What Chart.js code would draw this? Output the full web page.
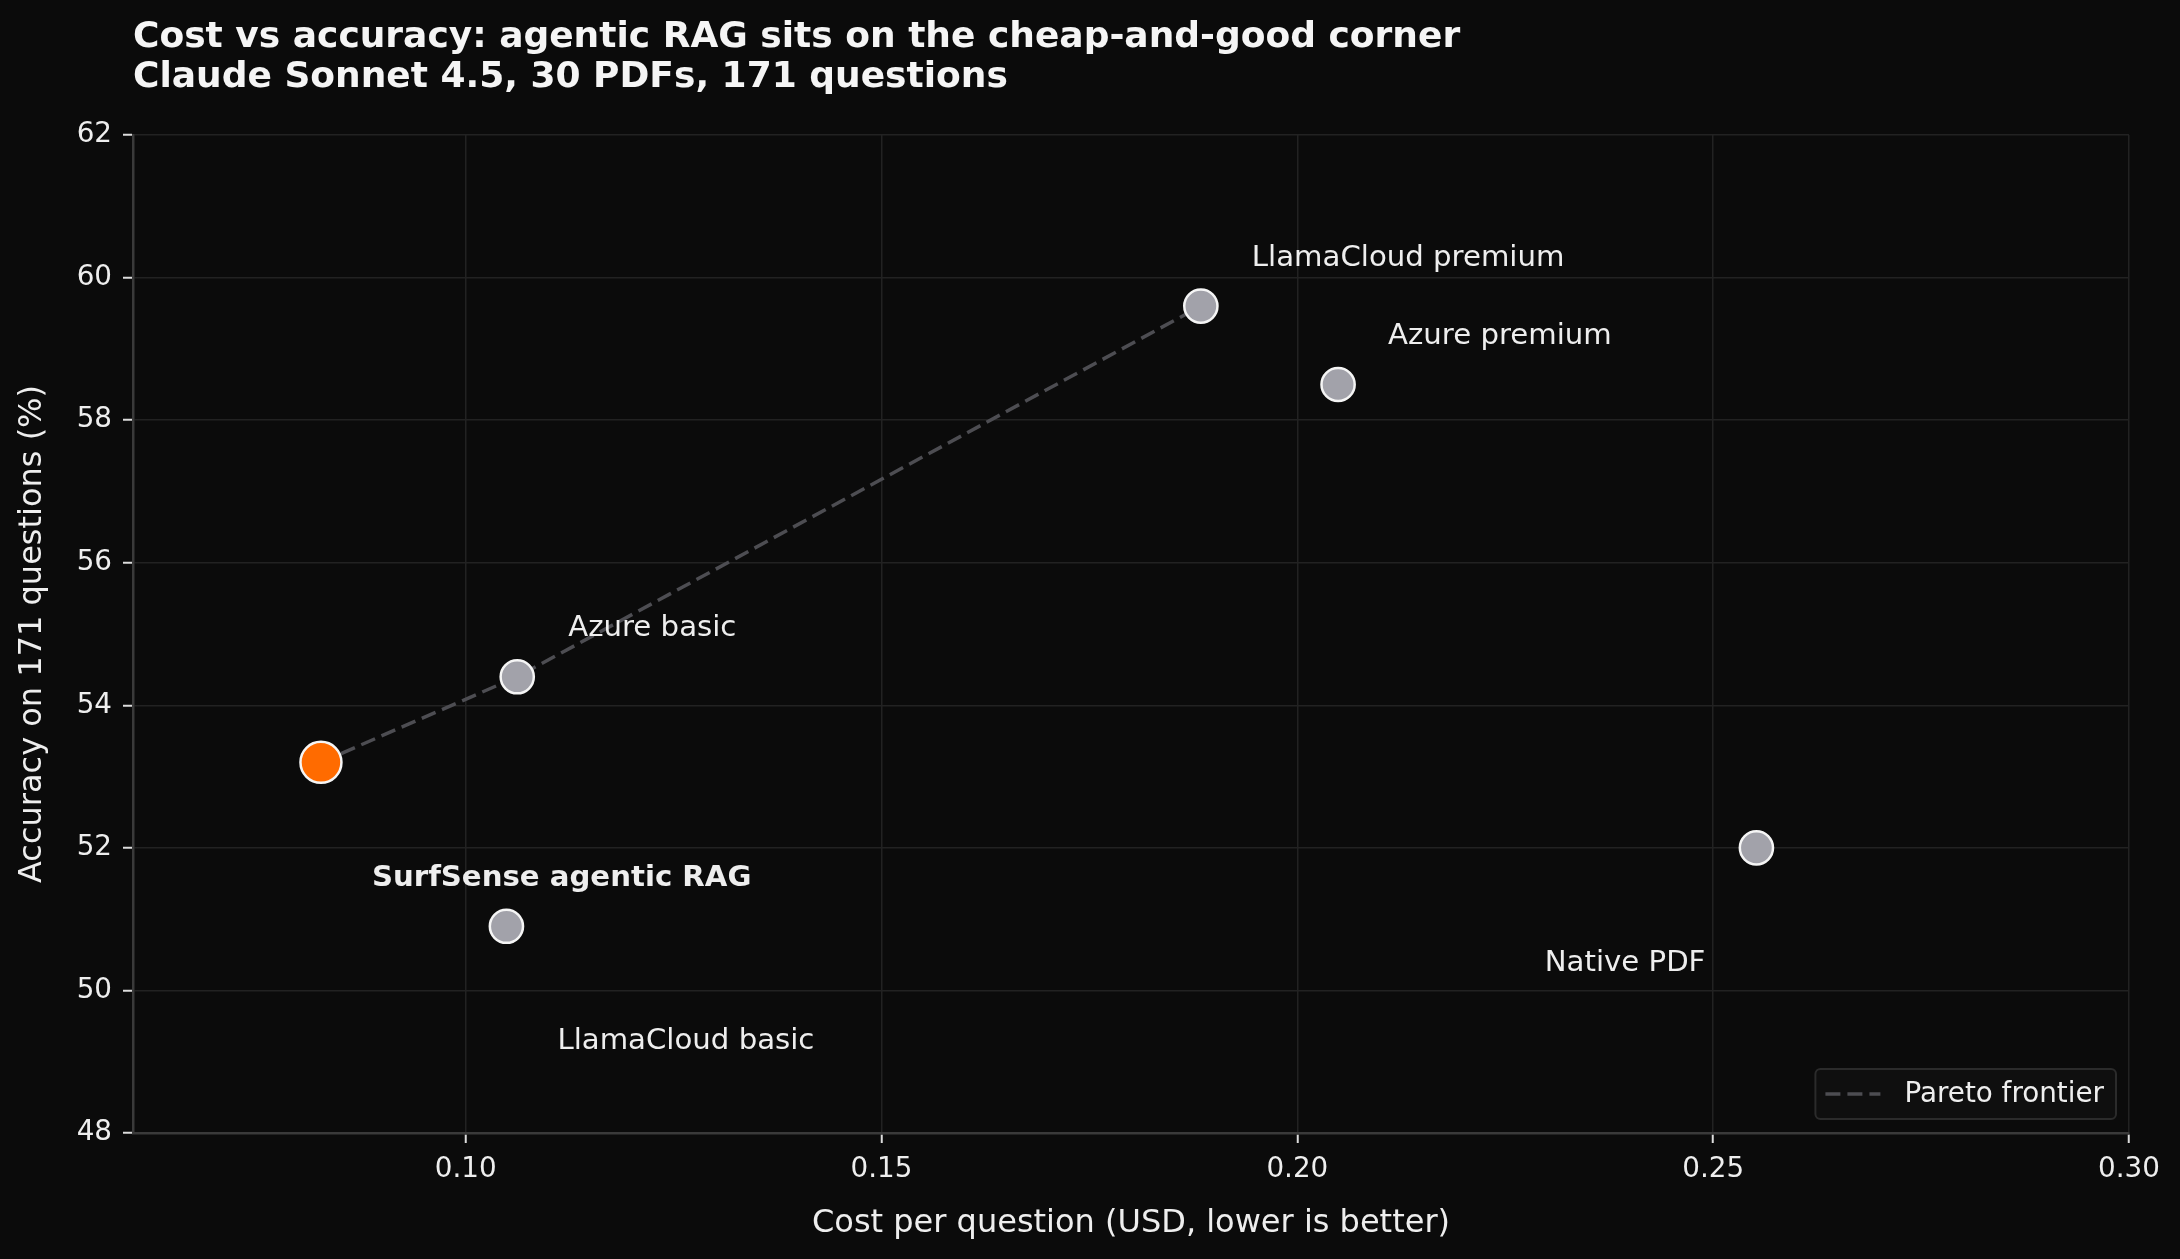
<!DOCTYPE html>
<html lang="en">
<head>
<meta charset="UTF-8">
<title>Cost vs accuracy</title>
<style>
  html, body { margin: 0; padding: 0; background: #0b0b0b; }
  canvas { display: block; }
</style>
</head>
<body>
<canvas id="cost_chart" width="2180" height="1259"></canvas>

<script src="https://cdn.jsdelivr.net/npm/chart.js"></script>
<script>
  // data
  const methods = ['SurfSense agentic RAG', 'Azure basic', 'LlamaCloud basic', 'LlamaCloud premium', 'Azure premium', 'Native PDF'];
  const costs = [0.0826, 0.1062, 0.1049, 0.1884, 0.2049, 0.2552];
  const accuracy = [53.2, 54.4, 50.9, 59.6, 58.5, 52.0];
  const paretoIdx = [0, 1, 3];
  const xTicks = [0.10, 0.15, 0.20, 0.25, 0.30];
  const yTicks = [48, 50, 52, 54, 56, 58, 60, 62];
  const titleLines = ['Cost vs accuracy: agentic RAG sits on the cheap-and-good corner', 'Claude Sonnet 4.5, 30 PDFs, 171 questions'];

  // label placement (pixels from the point) and styling
  const labelOffsets = [[51, 116, 'left', true], [51, -48, 'left', false], [51, 115, 'left', false],
                        [51, -48, 'left', false], [50, -48, 'left', false], [-51, 116, 'right', false]];

  const FONT = 'DejaVu Sans';
  const TEXT = '#eeeeee';
  const highlight = '#ff6b00';
  const gray = '#a2a2aa';

  var points = [];
  for (var i = 0; i < methods.length; i++) {
    points.push({x: costs[i], y: accuracy[i]});
  }
  var pareto = paretoIdx.map(function(i){ return {x: costs[i], y: accuracy[i]}; });

  const bgPlugin = {
    id: 'bg',
    beforeDraw(chart) {
      const c = chart.ctx;
      c.save();
      c.fillStyle = '#0b0b0b';
      c.fillRect(0, 0, chart.width, chart.height);
      c.restore();
    }
  };

  const titlePlugin = {
    id: 'leftTitle',
    afterDraw(chart) {
      const c = chart.ctx;
      c.save();
      c.fillStyle = '#f5f5f5';
      c.font = 'bold 36px "' + FONT + '"';
      c.textBaseline = 'middle';
      c.textAlign = 'left';
      c.fillText(titleLines[0], chart.chartArea.left, 38);
      c.fillText(titleLines[1], chart.chartArea.left, 78);
      c.restore();
    }
  };

  const labelPlugin = {
    id: 'pointLabels',
    afterDatasetsDraw(chart) {
      const c = chart.ctx;
      const meta = chart.getDatasetMeta(0);
      c.save();
      c.fillStyle = TEXT;
      c.textBaseline = 'middle';
      for (var i = 0; i < methods.length; i++) {
        const p = meta.data[i];
        const o = labelOffsets[i];
        c.font = (o[3] ? 'bold ' : '') + '29.2px "' + FONT + '"';
        c.textAlign = o[2];
        c.fillText(methods[i], p.x + o[0], p.y + o[1]);
      }
      c.restore();
    }
  };

  const legendPlugin = {
    id: 'boxLegend',
    afterDraw(chart) {
      const c = chart.ctx;
      const ds = chart.data.datasets[1];
      const area = chart.chartArea;
      c.save();
      c.font = '27.8px "' + FONT + '"';
      const tw = c.measureText(ds.label).width;
      const w = 10 + 55 + 24 + tw + 12;
      const h = 50;
      const x = area.right - 13 - w;
      const y = area.bottom - 14 - h;
      c.beginPath();
      c.roundRect(x, y, w, h, 5);
      c.fillStyle = '#0f0f0f';
      c.fill();
      c.lineWidth = 2;
      c.strokeStyle = '#2b2b2b';
      c.stroke();
      c.beginPath();
      c.setLineDash(ds.borderDash);
      c.lineWidth = ds.borderWidth;
      c.strokeStyle = ds.borderColor;
      c.moveTo(x + 10, y + h / 2);
      c.lineTo(x + 65, y + h / 2);
      c.stroke();
      c.setLineDash([]);
      c.fillStyle = TEXT;
      c.textBaseline = 'middle';
      c.textAlign = 'left';
      c.fillText(ds.label, x + 89, y + h / 2 + 1);
      c.restore();
    }
  };

  new Chart(document.getElementById('cost_chart'), {
    type: 'scatter',
    data: {
      datasets: [{
        label: 'Methods',
        data: points,
        backgroundColor: methods.map(function(m, i){ return i === 0 ? highlight : gray; }),
        borderColor: '#f5f5f5',
        borderWidth: 2.5,
        pointRadius: methods.map(function(m, i){ return i === 0 ? 20.5 : 16.6; }),
        pointHoverRadius: methods.map(function(m, i){ return i === 0 ? 20.5 : 16.6; }),
        order: 1
      }, {
        type: 'line',
        label: 'Pareto frontier',
        data: pareto,
        showLine: true,
        fill: false,
        borderColor: '#4d4d52',
        borderWidth: 3.5,
        borderDash: [15, 7],
        pointRadius: 0,
        tension: 0,
        order: 2
      }]
    },
    options: {
      responsive: false,
      devicePixelRatio: 1,
      animation: false,
      layout: { padding: { top: 135, right: 51, left: 0, bottom: 0 } },
      plugins: {
        legend: { display: false },
        tooltip: { enabled: false }
      },
      scales: {
        x: {
          type: 'linear',
          min: 0.06,
          max: 0.30,
          afterBuildTicks: function(axis) { axis.ticks = xTicks.map(function(v){ return {value: v}; }); },
          afterFit: function(axis) { axis.height = 126; },
          grid: { color: '#222222', lineWidth: 1.5, tickColor: '#dddddd', tickLength: 10, tickWidth: 2 },
          border: { display: true, color: '#3a3a3a', width: 2.5 },
          ticks: {
            color: TEXT,
            padding: 10,
            font: { family: FONT, size: 27.8 },
            callback: function(v) { return v.toFixed(2); }
          },
          title: {
            display: true,
            text: 'Cost per question (USD, lower is better)',
            color: TEXT,
            font: { family: FONT, size: 32 },
            padding: { top: 0, bottom: 16 }
          }
        },
        y: {
          min: 48,
          max: 62,
          afterBuildTicks: function(axis) { axis.ticks = yTicks.map(function(v){ return {value: v}; }); },
          afterFit: function(axis) { axis.width = 133; },
          grid: { color: '#222222', lineWidth: 1.5, tickColor: '#dddddd', tickLength: 10, tickWidth: 2 },
          border: { display: true, color: '#3a3a3a', width: 2.5 },
          ticks: {
            color: TEXT,
            padding: 11,
            font: { family: FONT, size: 27.8 }
          },
          title: {
            display: true,
            text: 'Accuracy on 171 questions (%)',
            color: TEXT,
            font: { family: FONT, size: 32 },
            padding: { top: 13, bottom: 0 }
          }
        }
      }
    },
    plugins: [bgPlugin, labelPlugin, titlePlugin, legendPlugin]
  });
</script>
</body>
</html>
